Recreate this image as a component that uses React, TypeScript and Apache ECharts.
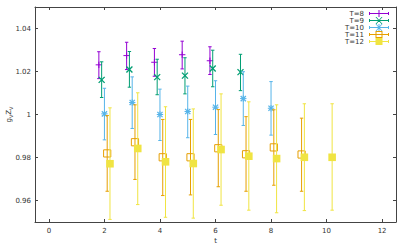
import React, { useEffect, useRef } from 'react';
import * as echarts from 'echarts';

// ---- data ----
const seriesNames = ['T=8', 'T=9', 'T=10', 'T=11', 'T=12'];
const xOffsets = [-0.2, -0.1, 0, 0.1, 0.2];

const tT8 = [2, 3, 4, 5, 6];
const cT8 = [1.0231, 1.0274, 1.0243, 1.0278, 1.025];
const loT8 = [1.0167, 1.0209, 1.0178, 1.0212, 1.0186];
const hiT8 = [1.0292, 1.0336, 1.0307, 1.0341, 1.0315];

const tT9 = [2, 3, 4, 5, 6, 7];
const cT9 = [1.0161, 1.0209, 1.0174, 1.0181, 1.0214, 1.0197];
const loT9 = [1.0079, 1.0127, 1.0092, 1.0096, 1.0129, 1.0111];
const hiT9 = [1.0245, 1.0293, 1.0257, 1.0264, 1.0299, 1.028];

const tT10 = [2, 3, 4, 5, 6, 7, 8];
const cT10 = [1.0003, 1.0056, 1.0, 1.0014, 1.0034, 1.0074, 1.0029];
const loT10 = [0.9882, 0.9935, 0.9879, 0.9892, 0.9907, 0.9949, 0.9904];
const hiT10 = [1.0122, 1.0175, 1.0118, 1.0132, 1.0157, 1.0199, 1.0153];

const tT11 = [2, 3, 4, 5, 6, 7, 8, 9];
const cT11 = [0.9819, 0.9871, 0.9801, 0.9801, 0.9843, 0.9815, 0.9847, 0.9814];
const loT11 = [0.9643, 0.9698, 0.9623, 0.9626, 0.9664, 0.9643, 0.9671, 0.9643];
const hiT11 = [0.9995, 1.0045, 0.9977, 0.9977, 1.0023, 0.999, 1.0022, 0.9983];

const tT12 = [2, 3, 4, 5, 6, 7, 8, 9, 10];
const cT12 = [0.9771, 0.9842, 0.978, 0.9772, 0.9837, 0.9806, 0.9795, 0.9801, 0.9801];
const loT12 = [0.9512, 0.9581, 0.9522, 0.9518, 0.9578, 0.9555, 0.9543, 0.9553, 0.9555];
const hiT12 = [1.0031, 1.0101, 1.0036, 1.0026, 1.0096, 1.0059, 1.0045, 1.005, 1.005];

const xTicks = [0, 2, 4, 6, 8, 10, 12];
const yTicks = [0.96, 0.98, 1, 1.02, 1.04];

// ---- styles ----
const colors = ['#9400d3', '#009e73', '#56b4e9', '#e69f00', '#f0e442'];
const markers = ['plus', 'cross', 'star', 'open', 'filled'];
const FONT = 'DejaVu Sans';
const AXIS_COLOR = '#444';
const TEXT_COLOR = '#333';

const allT = [tT8, tT9, tT10, tT11, tT12];
const allC = [cT8, cT9, cT10, cT11, cT12];
const allLo = [loT8, loT9, loT10, loT11, loT12];
const allHi = [hiT8, hiT9, hiT10, hiT11, hiT12];

// legend icons (20 x 7 box): horizontal error bar + marker
const BAR = 'M0 3H20V4H0Z M0 2H1V5H0Z M19 2H20V5H19Z';
const PLUS = 'M9.5 0H10.5V7H9.5Z M6.5 3H13.5V4H6.5Z';
const CROSS = 'M6.5 0L7.5 0L13.5 7L12.5 7Z M12.5 0L13.5 0L7.5 7L6.5 7Z';
const OPEN = 'M6.5 0H13.5V7H6.5Z M7.5 1V6H12.5V1Z';
const FILLED = 'M6.5 0H13.5V7H6.5Z';
const legendIcons = [
  'path://' + BAR + ' ' + PLUS,
  'path://' + BAR + ' ' + CROSS,
  'path://' + BAR + ' ' + PLUS + ' ' + CROSS,
  'path://' + BAR + ' ' + OPEN,
  'path://' + BAR + ' ' + FILLED,
];

function makeRender(marker: string, color: string) {
  return (_params: any, api: any) => {
    const x = api.value(0) as number;
    const p = api.coord([x, api.value(1)]);
    const pl = api.coord([x, api.value(2)]);
    const ph = api.coord([x, api.value(3)]);
    const cap = 1.7;
    const ls = { stroke: color, lineWidth: 1, fill: 'none' };
    const children: any[] = [
      { type: 'line', shape: { x1: p[0], y1: pl[1], x2: p[0], y2: ph[1] }, style: ls },
      { type: 'line', shape: { x1: p[0] - cap, y1: pl[1], x2: p[0] + cap, y2: pl[1] }, style: ls },
      { type: 'line', shape: { x1: p[0] - cap, y1: ph[1], x2: p[0] + cap, y2: ph[1] }, style: ls },
    ];
    const h = 3.2;
    if (marker === 'plus' || marker === 'star') {
      children.push({ type: 'line', shape: { x1: p[0] - h, y1: p[1], x2: p[0] + h, y2: p[1] }, style: ls });
      children.push({ type: 'line', shape: { x1: p[0], y1: p[1] - h, x2: p[0], y2: p[1] + h }, style: ls });
    }
    if (marker === 'cross' || marker === 'star') {
      const d = marker === 'star' ? 2.6 : 3;
      children.push({ type: 'line', shape: { x1: p[0] - d, y1: p[1] - d, x2: p[0] + d, y2: p[1] + d }, style: { ...ls, lineWidth: 1.3 } });
      children.push({ type: 'line', shape: { x1: p[0] - d, y1: p[1] + d, x2: p[0] + d, y2: p[1] - d }, style: { ...ls, lineWidth: 1.3 } });
    }
    if (marker === 'open') {
      const s = 3.6;
      children.push({ type: 'rect', shape: { x: p[0] - s, y: p[1] - s, width: 2 * s, height: 2 * s }, style: { stroke: color, lineWidth: 1, fill: 'none' } });
    }
    if (marker === 'filled') {
      const s = 3.8;
      children.push({ type: 'rect', shape: { x: p[0] - s, y: p[1] - s, width: 2 * s, height: 2 * s }, style: { fill: color } });
    }
    return { type: 'group', children };
  };
}

export default function App() {
  const ref = useRef<HTMLDivElement>(null);
  useEffect(() => {
    if (!ref.current) return;
    const chart = echarts.init(ref.current, null, { renderer: 'svg' });
    const series = seriesNames.map((name, i) => ({
      name,
      type: 'custom',
      renderItem: makeRender(markers[i], colors[i]),
      encode: { x: 0, y: 1 },
      itemStyle: { color: colors[i] },
      data: allT[i].map((t, j) => [t + xOffsets[i], allC[i][j], allLo[i][j], allHi[i][j]]),
      z: 10 + i,
    }));
    const axisLine = { show: true, onZero: false, lineStyle: { color: AXIS_COLOR, width: 1 } };
    const labelStyle = { fontSize: 7, color: TEXT_COLOR, fontFamily: FONT };
    chart.setOption({
      animation: false,
      color: colors,
      grid: { left: 35, right: 11, top: 7, bottom: 22, containLabel: false, outerBoundsMode: 'none' },
      legend: {
        orient: 'vertical',
        right: 18,
        top: 10,
        align: 'right',
        itemWidth: 20,
        itemHeight: 7,
        itemGap: 0,
        padding: 0,
        selectedMode: false,
        textStyle: { ...labelStyle, lineHeight: 7 },
        data: seriesNames.map((n, i) => ({ name: n, icon: legendIcons[i] })),
      },
      xAxis: [
        {
          type: 'value',
          position: 'bottom',
          min: -0.5,
          max: 12.5,
          axisLine,
          axisTick: { show: true, inside: true, length: 3, customValues: xTicks, lineStyle: { color: AXIS_COLOR } },
          axisLabel: { show: true, customValues: xTicks, margin: 5, ...labelStyle },
          splitLine: { show: false },
          name: 't',
          nameLocation: 'middle',
          nameGap: 15,
          nameMoveOverlap: false,
          nameTextStyle: { ...labelStyle, lineHeight: 7 },
        },
        {
          type: 'value',
          position: 'top',
          min: -0.5,
          max: 12.5,
          axisLine,
          axisTick: { show: true, inside: true, length: 3, customValues: xTicks, lineStyle: { color: AXIS_COLOR } },
          axisLabel: { show: false },
          splitLine: { show: false },
        },
      ],
      yAxis: [
        {
          type: 'value',
          position: 'left',
          min: 0.95,
          max: 1.05,
          axisLine,
          axisTick: { show: true, inside: true, length: 3, customValues: yTicks, lineStyle: { color: AXIS_COLOR } },
          axisLabel: { show: true, customValues: yTicks, margin: 4, ...labelStyle },
          splitLine: { show: false },
          name: '{n|g}{s|V}{n|Z}{s|V}',
          nameLocation: 'middle',
          nameGap: 22,
          nameMoveOverlap: false,
          nameTextStyle: {
            ...labelStyle,
            rich: {
              n: { fontSize: 7, color: TEXT_COLOR, fontFamily: FONT, lineHeight: 8 },
              s: { fontSize: 5, color: TEXT_COLOR, fontFamily: FONT, lineHeight: 8, verticalAlign: 'bottom' },
            },
          },
        },
        {
          type: 'value',
          position: 'right',
          min: 0.95,
          max: 1.05,
          axisLine,
          axisTick: { show: true, inside: true, length: 3, customValues: yTicks, lineStyle: { color: AXIS_COLOR } },
          axisLabel: { show: false },
          splitLine: { show: false },
        },
      ],
      series,
    });
    return () => chart.dispose();
  }, []);
  return (
    <div
      ref={ref}
      style={{ position: 'fixed', left: 0, top: 0, width: 407, height: 244, background: '#fff' }}
    />
  );
}
